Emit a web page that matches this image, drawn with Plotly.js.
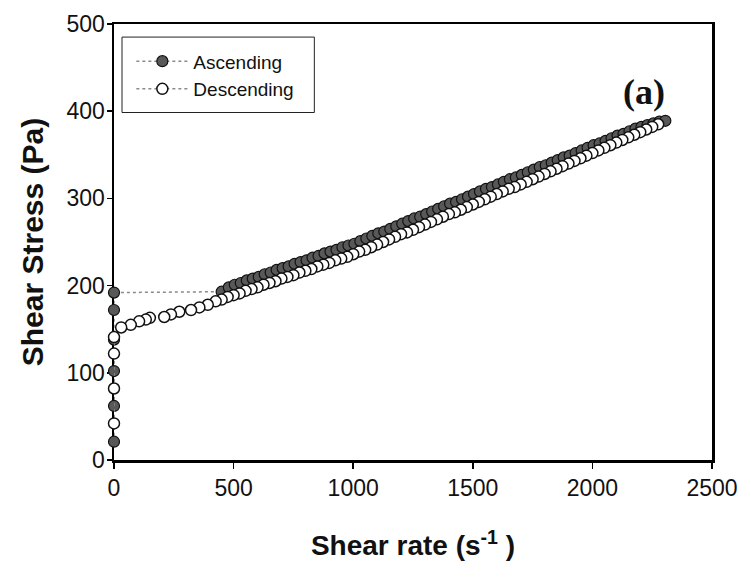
<!DOCTYPE html>
<html>
<head>
<meta charset="utf-8">
<script src="https://cdn.plot.ly/plotly-3.0.1.min.js"></script>
<style>
  html, body { margin: 0; padding: 0; background: #ffffff; }
  #chart { width: 742px; height: 571px; }
</style>
</head>
<body>
<div id="chart"></div>
<script>
// Ascending branch: shear rate (1/s) and shear stress (Pa)
const ascRate = [0, 0, 0, 0, 0, 0,
  450, 480, 505, 530, 555, 580, 605, 630, 655, 680, 705, 730, 755, 780, 805, 830, 855, 880, 905, 930,
  955, 980, 1005, 1030, 1055, 1080, 1105, 1130, 1155, 1180, 1205, 1230, 1255, 1280, 1305, 1330, 1355,
  1380, 1405, 1430, 1455, 1480, 1505, 1530, 1555, 1580, 1605, 1630, 1655, 1680, 1705, 1730, 1755, 1780,
  1805, 1830, 1855, 1880, 1905, 1930, 1955, 1980, 2005, 2030, 2055, 2080, 2105, 2130, 2155, 2180, 2205,
  2230, 2255, 2280, 2305];
const ascStress = [21, 62, 102, 138, 172, 192,
  193, 198, 201, 203, 206, 208, 210, 213, 215, 218, 220, 222, 225, 227, 229, 232, 234, 237, 239, 241,
  244, 246, 248, 251, 254, 257, 260, 262, 265, 268, 271, 274, 277, 279, 282, 285, 288,
  291, 294, 296, 299, 302, 305, 308, 311, 313, 316, 319, 322, 324, 327, 330, 333, 336,
  338, 341, 344, 347, 349, 352, 355, 358, 361, 363, 366, 369, 372, 374, 377, 380, 382,
  384, 386, 388, 389];

// Descending branch
const descRate = [2275, 2250, 2225, 2200, 2175, 2150, 2125, 2100, 2075, 2050, 2025, 2000, 1975, 1950,
  1925, 1900, 1875, 1850, 1825, 1800, 1775, 1750, 1725, 1700, 1675, 1650, 1625, 1600, 1575, 1550,
  1525, 1500, 1475, 1450, 1425, 1400, 1375, 1350, 1325, 1300, 1275, 1250, 1225, 1200, 1175, 1150,
  1125, 1100, 1075, 1050, 1025, 1000, 975, 950, 925, 900, 875, 850, 825, 800, 775, 750, 725, 700,
  675, 650, 625, 600, 575, 550, 525, 500, 475, 450, 425,
  392, 357, 322, 273, 238, 210, 150, 133, 105, 70, 30,
  0, 0, 0, 0];
const descStress = [385, 382, 379, 376, 373, 370, 367, 364, 361, 358, 355, 352, 349, 346,
  343, 340, 337, 334, 331, 328, 325, 322, 319, 316, 313, 311, 308, 305, 302, 299,
  296, 293, 290, 287, 284, 282, 279, 276, 273, 270, 267, 264, 261, 259, 256, 253,
  250, 247, 244, 241, 239, 236, 233, 231, 229, 226, 224, 222, 219, 217, 215, 212, 210, 208,
  205, 203, 201, 198, 196, 194, 191, 189, 187, 184, 182,
  178, 175, 172, 170, 167, 164, 163, 161, 159, 155, 152,
  141, 122, 82, 42];

const xTicks = [0, 500, 1000, 1500, 2000, 2500];
const yTicks = [0, 100, 200, 300, 400, 500];
const seriesNames = ['Ascending', 'Descending'];
const panelLabel = '(a)';

const lineStyle = { color: '#8a8a8a', width: 1.5, dash: 'dot' };

const traces = [
  {
    x: ascRate, y: ascStress, name: seriesNames[0], type: 'scatter', mode: 'lines+markers',
    line: lineStyle, cliponaxis: false,
    marker: { symbol: 'circle', size: 11, color: '#585858', line: { color: '#111111', width: 1.2 } }
  },
  {
    x: descRate, y: descStress, name: seriesNames[1], type: 'scatter', mode: 'lines+markers',
    line: lineStyle, cliponaxis: false,
    marker: { symbol: 'circle', size: 11, color: '#ffffff', line: { color: '#111111', width: 1.5 } }
  }
];

const axisFont = { family: 'Liberation Sans, Arial, sans-serif', size: 23, color: '#111111' };
const xTitleFont = { family: 'Liberation Sans, Arial, sans-serif', size: 28, color: '#111111', weight: 'bold' };
const yTitleFont = { family: 'Liberation Sans, Arial, sans-serif', size: 30, color: '#111111', weight: 'bold' };

const layout = {
  width: 742, height: 571,
  margin: { l: 114, r: 30, t: 24, b: 111 },
  paper_bgcolor: '#ffffff', plot_bgcolor: '#ffffff',
  showlegend: true,
  legend: {
    x: 0.029, y: 0.958, xanchor: 'left', yanchor: 'top',
    bgcolor: 'rgba(0,0,0,0)', borderwidth: 0,
    font: { family: 'Liberation Sans, Arial, sans-serif', size: 19, color: '#111111' },
    itemwidth: 52, tracegroupgap: 0
  },
  xaxis: {
    range: [0, 2500], tickvals: xTicks, ticktext: xTicks.map(String),
    showgrid: false, zeroline: false, showline: true, mirror: true,
    linecolor: '#000000', linewidth: 2.5, layer: 'below traces',
    ticks: 'outside', ticklen: 6, tickwidth: 1.5, tickcolor: '#000000',
    tickfont: axisFont,
    title: { text: '<b>Shear rate (s<sup>-1</sup> )</b>', font: xTitleFont, standoff: 36 }
  },
  yaxis: {
    range: [0, 500], tickvals: yTicks, ticktext: yTicks.map(String),
    showgrid: false, zeroline: false, showline: true, mirror: true,
    linecolor: '#000000', linewidth: 2.5, layer: 'below traces',
    ticks: 'outside', ticklen: 5, tickwidth: 1.5, tickcolor: '#000000',
    ticklabelstandoff: -3,
    tickfont: axisFont,
    title: { text: '<b>Shear Stress (Pa)</b>', font: yTitleFont, standoff: 14 }
  },
  shapes: [
    { type: 'rect', xref: 'paper', yref: 'paper', x0: 0.0134, x1: 0.335, y0: 0.797, y1: 0.970,
      line: { color: '#222222', width: 1 }, fillcolor: 'rgba(0,0,0,0)', layer: 'above' }
  ],
  annotations: [
    { xref: 'paper', yref: 'paper', x: 0.925, y: 0.895, text: '<b>' + panelLabel + '</b>', showarrow: false,
      font: { family: 'Liberation Serif, Times New Roman, serif', size: 36, color: '#111111' } }
  ]
};

Plotly.newPlot('chart', traces, layout, { staticPlot: true, displayModeBar: false });
</script>
</body>
</html>
